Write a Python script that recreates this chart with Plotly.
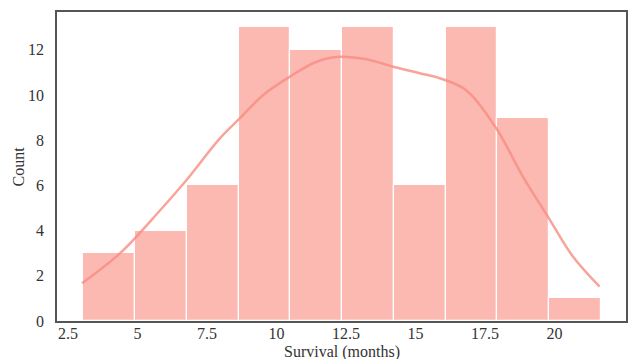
import plotly.graph_objects as go

# Data
bin_edges = [3.04, 4.90, 6.77, 8.63, 10.49, 12.36, 14.22, 16.08, 17.94, 19.81, 21.67]
counts = [3, 4, 6, 13, 12, 13, 6, 13, 9, 1]

kde_x = [3.0, 4.37, 5.81, 6.76, 7.96, 8.68, 9.52, 10.48, 11.44, 12.27, 13.23, 14.19, 15.15, 15.87, 16.83, 17.9, 18.86, 19.76, 20.66, 21.62]
kde_y = [1.67, 3.0, 4.9, 6.24, 8.08, 8.97, 10.0, 10.81, 11.47, 11.69, 11.58, 11.25, 10.96, 10.74, 10.2, 8.53, 6.39, 4.62, 2.85, 1.52]

x_ticks = [2.5, 5, 7.5, 10, 12.5, 15, 17.5, 20]
x_tick_labels = ["2.5", "5", "7.5", "10", "12.5", "15", "17.5", "20"]
y_ticks = [0, 2, 4, 6, 8, 10, 12]
x_title = "Survival (months)"
y_title = "Count"

centers = [(a + b) / 2 for a, b in zip(bin_edges[:-1], bin_edges[1:])]
widths = [b - a for a, b in zip(bin_edges[:-1], bin_edges[1:])]

fig = go.Figure()
fig.add_trace(go.Bar(
    x=centers, y=counts, width=widths,
    marker=dict(color="rgba(250,128,114,0.55)", line=dict(color="white", width=1.2)),
    showlegend=False,
))
fig.add_trace(go.Scatter(
    x=kde_x, y=kde_y, mode="lines",
    line=dict(color="rgba(248,140,130,0.8)", width=2.5, shape="spline", smoothing=1.0),
    showlegend=False,
))

fig.update_layout(
    width=628, height=359,
    margin=dict(l=57, r=2, t=12, b=38),
    plot_bgcolor="white", paper_bgcolor="white",
    font=dict(family="Liberation Serif, Times New Roman, serif", size=16, color="#333333"),
    bargap=0,
    annotations=[
        dict(text=x_title, xref="paper", yref="paper", x=0.5, y=0,
             xanchor="center", yanchor="middle", yshift=-31, showarrow=False,
             font=dict(size=16)),
        dict(text=y_title, xref="paper", yref="paper", x=0, y=0.5,
             xanchor="center", yanchor="middle", xshift=-39, textangle=-90,
             showarrow=False, font=dict(size=16)),
    ],
)
fig.update_xaxes(
    range=[2.1, 22.57], tickvals=x_ticks, ticktext=x_tick_labels,
    showgrid=False, zeroline=False, automargin=False,
    showline=True, mirror=True, linecolor="#555555", linewidth=1.5,
    ticks="", ticklabelstandoff=-3, tickfont=dict(size=16),
)
fig.update_yaxes(
    range=[0, 13.67], tickvals=y_ticks,
    showgrid=False, zeroline=False, automargin=False,
    showline=True, mirror=True, linecolor="#555555", linewidth=1.5,
    ticks="", ticklabelstandoff=8, tickfont=dict(size=16),
)

fig.write_html("out.html", config={"displayModeBar": False},
               post_script="document.body.style.margin='0';document.body.style.overflow='hidden';")
